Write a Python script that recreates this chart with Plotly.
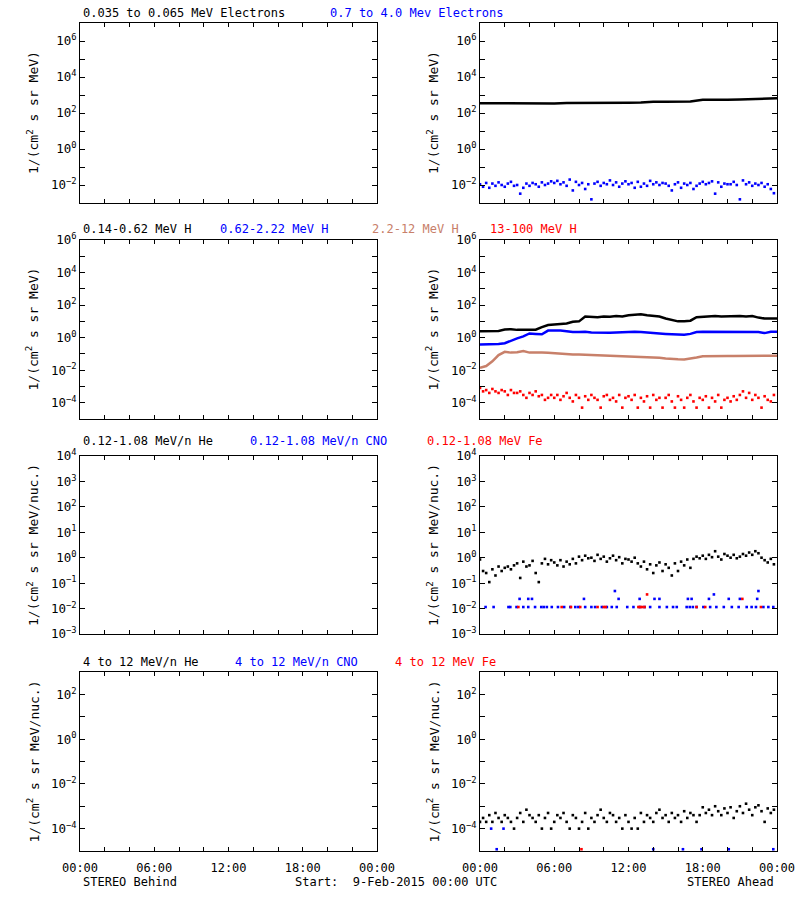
import pandas as pd
import plotly.graph_objects as go

FONT = "DejaVu Sans Mono"
START = pd.Timestamp("2015-02-09 00:00")

# ---------------- time grids (hours after start) ----------------
HOURS_15MIN = [i / 4 for i in range(96)]
HOURS_30MIN = [i / 2 for i in range(49)]
HOURS_1H = list(range(25))

# ---------------- Row 1: electrons, STEREO Ahead ----------------
elec_low = [350, 345, 340, 335, 320, 330, 340, 365, 360, 355, 350, 365, 370,
            380, 420, 420, 440, 430, 550, 520, 540, 560, 580, 610, 650]
elec_high = [0.011, 0.008, 0.013, 0.007, 0.012, 0.009, 0.014, 0.010, 0.008, 0.012, 0.015, 0.009,
             0.010, 0.0033, 0.007, 0.012, 0.009, 0.013, 0.011, 0.008, 0.014, 0.010, 0.012, 0.016,
             0.013, 0.017, 0.011, 0.014, 0.009, 0.020, 0.005, 0.015, 0.010, 0.013, 0.006, 0.011,
             0.0016, 0.012, 0.015, 0.009, 0.013, 0.011, 0.018, 0.010, 0.014, 0.008, 0.012, 0.016,
             0.011, 0.013, 0.007, 0.015, 0.008, 0.012, 0.009, 0.017, 0.011, 0.014, 0.010, 0.013,
             0.012, 0.009, 0.005, 0.011, 0.014, 0.007, 0.012, 0.010, 0.013, 0.006, 0.009, 0.012,
             0.015, 0.011, 0.013, 0.016, 0.0033, 0.014, 0.008, 0.012, 0.011, 0.011, 0.015, 0.010,
             0.0016, 0.018, 0.011, 0.014, 0.009, 0.012, 0.010, 0.013, 0.008, 0.011, 0.006, 0.0035]

# ---------------- Row 2: protons, STEREO Ahead ----------------
h_014_062 = [2.5, 2.5, 2.5, 2.6, 3.2, 3.3, 3.0, 3.0, 2.9, 3.1, 4.4, 6.0, 6.4, 6.6, 7.5, 9.4,
             10, 20, 19, 18, 20, 19, 21, 20, 24, 26, 27, 24, 21, 20, 15, 12, 10, 10, 11, 18,
             19, 20, 21, 20, 21, 20, 21, 20, 21, 17, 15, 15, 15]
h_062_222 = [0.38, 0.38, 0.38, 0.40, 0.45, 0.67, 0.9, 1.2, 1.8, 1.7, 1.6, 2.7, 2.8, 2.7, 2.5, 2.2,
             2.2, 2.3, 2.1, 2.0, 1.9, 2.0, 2.1, 2.2, 2.2, 2.3, 2.2, 2.0, 1.9, 1.8, 1.7, 1.6,
             1.6, 1.5, 1.7, 2.2, 2.3, 2.3, 2.3, 2.3, 2.3, 2.3, 2.3, 2.4, 2.3, 2.2, 1.9, 2.3, 2.3]
h_22_12 = [0.014, 0.018, 0.035, 0.085, 0.135, 0.12, 0.125, 0.15, 0.12, 0.115, 0.12, 0.118,
           0.11, 0.10, 0.095, 0.093, 0.093, 0.09, 0.087, 0.083, 0.082, 0.08, 0.08, 0.078,
           0.072, 0.068, 0.065, 0.063, 0.06, 0.058, 0.052, 0.048, 0.047, 0.046, 0.05, 0.06,
           0.072, 0.074, 0.074, 0.073, 0.075, 0.074, 0.076, 0.075, 0.077, 0.076, 0.078, 0.077, 0.078]
h_13_100 = [8e-4, 5e-4, 6e-4, 4e-4, 7e-4, 5e-4, 4e-4, 6e-4, 5e-4, 3e-4, 6e-4, 4e-4,
            4e-4, 5e-4, 3e-4, 2e-4, 4e-4, 3e-4, 5e-4, 2.5e-4, 3e-4, 1.5e-4, 2e-4, 3e-4,
            2e-4, 3e-4, 1.5e-4, 2.5e-4, 4e-4, 2e-4, 1.2e-4, 3e-4, 2e-4, 5e-5, 2.5e-4, 1.5e-4,
            3e-4, 2e-4, 1.5e-4, 5e-5, 2.5e-4, 3e-4, 1.5e-4, 2e-4, 1.2e-4, 3e-4, 5e-5, 2e-4,
            2.5e-4, 1.5e-4, 3e-4, 5e-5, 2e-4, 1.2e-4, 2.5e-4, 5e-5, 3e-4, 1.5e-4, 2e-4, 5e-5,
            2e-4, 3e-4, 1.2e-4, 5e-5, 2.5e-4, 1.5e-4, 5e-5, 2e-4, 3e-4, 1.2e-4, 5e-5, 2e-4,
            1.5e-4, 2.5e-4, 5e-5, 2e-4, 1.2e-4, 3e-4, 5e-5, 1.5e-4, 2e-4, 1.2e-4, 2.5e-4, 1.5e-4,
            3e-4, 5e-4, 2e-4, 4e-4, 1.5e-4, 3e-4, 2e-4, 5e-5, 2.5e-4, 1.5e-4, 1.2e-4, 3e-4]

# ---------------- Row 3: 0.12-1.08 MeV/n ions, STEREO Ahead ----------------
he_low = [0.85, 0.3, 0.25, 0.11, 0.35, 0.2, 0.45, 0.3, 0.4, 0.45, 0.35, 0.5,
          0.6, 0.16, 0.7, 0.45, 0.5, 0.75, 0.25, 0.11, 0.6, 0.9, 0.55, 0.8,
          0.65, 0.5, 0.8, 0.45, 0.7, 0.55, 0.9, 0.6, 1.1, 0.8, 1.2, 0.95,
          1.0, 0.75, 1.3, 0.9, 1.1, 0.7, 0.95, 1.2, 0.8, 1.05, 0.6, 0.9,
          0.85, 0.7, 1.0, 0.6, 0.45, 0.7, 0.35, 0.55, 0.25, 0.5, 0.65, 0.3,
          0.55, 0.4, 0.2, 0.6, 0.3, 0.7, 0.5, 0.85, 0.4, 0.9, 1.1, 0.95,
          1.2, 0.9, 1.3, 1.05, 1.8, 1.1, 0.85, 1.4, 1.2, 1.0, 1.3, 0.95,
          1.1, 1.4, 1.2, 1.6, 1.3, 1.8, 1.5, 1.0, 0.8, 0.65, 0.9, 0.55]
cno_low_hours = [0.45, 1.1, 2.3, 2.45, 2.95, 3.5, 3.9, 4.45, 4.95, 5.15, 5.4, 5.8, 6.3, 6.8,
                 7.3, 7.7, 7.95, 8.5, 9.0, 9.3, 9.85, 10.25, 10.65, 11.05, 11.9, 12.4, 12.9,
                 13.3, 13.75, 14.5, 15.1, 15.6, 15.9, 16.7, 16.95, 17.2, 17.5, 18.05, 18.6,
                 19.1, 19.7, 20.35, 20.9, 21.55, 21.95, 22.3, 22.9, 23.3, 23.7,
                 3.2, 3.9, 4.2, 8.4, 10.9, 11.2, 12.9, 14.1, 14.5, 16.8, 17.1, 18.5, 18.9,
                 20.1, 21.0, 22.4, 22.5]
cno_low = [0.0115] * 49 + [0.024, 0.024, 0.024, 0.024, 0.049, 0.024, 0.024, 0.024, 0.024,
                           0.024, 0.024, 0.024, 0.036, 0.024, 0.024, 0.024, 0.049]
fe_low_hours = [3.1, 6.6, 7.35, 8.1, 9.5, 10.0, 10.15, 12.8, 12.95, 13.1, 13.3, 17.5, 18.2,
                22.7, 13.5, 21.2]
fe_low = [0.0115] * 14 + [0.036, 0.024]

# ---------------- Row 4: 4-12 MeV/n ions, STEREO Ahead ----------------
he_high = [2e-4, 3e-4, 2e-4, 4e-4, 2e-4, 5e-4, 3e-4, 2e-4, 4e-4, 3e-4, 2e-4, 1e-4,
           3e-4, 5e-4, 2e-4, 7e-4, 4e-4, 3e-4, 2e-4, 4e-4, 1e-4, 3e-4, 5e-4, 1e-4,
           2e-4, 4e-4, 3e-4, 5e-4, 2e-4, 1e-4, 4e-4, 3e-4, 1e-4, 2e-4, 5e-4, 1e-4,
           3e-4, 2e-4, 4e-4, 7e-4, 3e-4, 2e-4, 5e-4, 4e-4, 2e-4, 3e-4, 1e-4, 4e-4,
           2e-4, 1e-4, 3e-4, 1e-4, 5e-4, 2e-4, 4e-4, 3e-4, 2e-4, 5e-4, 7e-4, 3e-4,
           4e-4, 2e-4, 5e-4, 3e-4, 4e-4, 2e-4, 6e-4, 3e-4, 5e-4, 4e-4, 2e-4, 4e-4,
           9e-4, 5e-4, 7e-4, 4e-4, 1.0e-3, 6e-4, 4e-4, 8e-4, 5e-4, 9e-4, 3e-4, 6e-4,
           1.0e-3, 5e-4, 1.3e-3, 7e-4, 4e-4, 9e-4, 1.1e-3, 6e-4, 2e-4, 8e-4, 5e-4, 7e-4]
cno_high_hours = [0.9, 1.9, 1.35, 14.0, 16.4, 17.9, 20.1, 23.7]
cno_high = [1e-4, 1e-4, 1.2e-5, 1.2e-5, 1.2e-5, 1.2e-5, 1.2e-5, 1.2e-5]
fe_high_hours = [8.2]
fe_high = [1.2e-5]

# ---------------- labels ----------------
TIME_TICK_LABELS = ["00:00", "06:00", "12:00", "18:00", "00:00"]
ROW_TITLES = [
    [("0.035 to 0.065 MeV Electrons", "black", 81), ("0.7 to 4.0 Mev Electrons", "blue", 328)],
    [("0.14-0.62 MeV H", "black", 81), ("0.62-2.22 MeV H", "blue", 218),
     ("2.2-12 MeV H", "#c8806a", 370), ("13-100 MeV H", "red", 488)],
    [("0.12-1.08 MeV/n He", "black", 81), ("0.12-1.08 MeV/n CNO", "blue", 248),
     ("0.12-1.08 MeV Fe", "red", 425)],
    [("4 to 12 MeV/n He", "black", 81), ("4 to 12 MeV/n CNO", "blue", 233),
     ("4 to 12 MeV Fe", "red", 393)],
]
Y_TITLES = ["1/(cm<sup>2</sup> s sr MeV)", "1/(cm<sup>2</sup> s sr MeV)",
            "1/(cm<sup>2</sup> s sr MeV/nuc.)", "1/(cm<sup>2</sup> s sr MeV/nuc.)"]

# ---------------- layout geometry (pixels in an 800x900 page) ----------------
W, H = 800, 900
COL_PX = {1: (80, 377), 2: (480, 777)}
ROW_PX = {1: (23, 203), 2: (240, 419), 3: (456, 634), 4: (672, 851)}
TITLE_Y = {1: 13, 2: 229, 3: 441, 4: 661.5}
Y_LOG_RANGE = {1: (-3, 7), 2: (-5, 6), 3: (-3, 4), 4: (-5, 3)}
LABEL_EVERY = {1: 2, 2: 2, 3: 1, 4: 2}


def at(hours):
    return [START + pd.Timedelta(hours=h) for h in hours]


def px_x(x):
    return x / W


def px_y(y):
    return 1 - y / H


fig = go.Figure()


def ax_id(r, c):
    return 2 * (r - 1) + c


def add(r, c, hours, vals, color, mode="markers", width=2.5, size=2.6):
    i = ax_id(r, c)
    kw = dict(x=at(hours), y=vals, xaxis=f"x{i}", yaxis=f"y{i}", showlegend=False,
              hoverinfo="skip", cliponaxis=True)
    if mode == "lines":
        fig.add_trace(go.Scatter(mode="lines", line=dict(color=color, width=width), **kw))
    else:
        fig.add_trace(go.Scatter(mode="markers",
                                 marker=dict(color=color, size=size, symbol="square",
                                             line=dict(width=0)), **kw))


# STEREO Ahead data (right column); STEREO Behind panels are empty
add(1, 2, HOURS_1H, elec_low, "black", mode="lines")
add(1, 2, HOURS_15MIN, elec_high, "blue")
add(2, 2, HOURS_30MIN, h_014_062, "black", mode="lines")
add(2, 2, HOURS_30MIN, h_062_222, "blue", mode="lines")
add(2, 2, HOURS_30MIN, h_22_12, "#c8806a", mode="lines")
add(2, 2, HOURS_15MIN, h_13_100, "red")
add(3, 2, HOURS_15MIN, he_low, "black")
add(3, 2, cno_low_hours, cno_low, "blue")
add(3, 2, fe_low_hours, fe_low, "red")
add(4, 2, HOURS_15MIN, he_high, "black")
add(4, 2, cno_high_hours, cno_high, "blue")
add(4, 2, fe_high_hours, fe_high, "red")

# empty traces so every axis pair exists
for r in range(1, 5):
    i = ax_id(r, 1)
    fig.add_trace(go.Scatter(x=[], y=[], xaxis=f"x{i}", yaxis=f"y{i}", showlegend=False))

x_tickvals = at(list(range(0, 25, 2)))
layout = {}
annotations = []
for r in range(1, 5):
    lo, hi = Y_LOG_RANGE[r]
    exps = list(range(lo, hi + 1))
    ytext = [("10<sup>" + str(e).replace("-", "\u2212") + "</sup>")
             if (e % LABEL_EVERY[r] == 0) else "" for e in exps]
    for c in (1, 2):
        i = ax_id(r, c)
        xk = "xaxis" if i == 1 else f"xaxis{i}"
        yk = "yaxis" if i == 1 else f"yaxis{i}"
        x0, x1 = COL_PX[c]
        y0, y1 = ROW_PX[r]
        xtext = [(TIME_TICK_LABELS[k // 3] if k % 3 == 0 else "") for k in range(13)]
        layout[xk] = dict(
            domain=[px_x(x0), px_x(x1)], anchor=f"y{i}", type="date",
            range=[START, START + pd.Timedelta(hours=24)],
            tickmode="array", tickvals=x_tickvals, ticktext=xtext,
            showticklabels=(r == 4), ticks="inside", ticklen=4, tickwidth=1,
            tickcolor="black", showline=True, linecolor="black", linewidth=1,
            mirror="allticks", showgrid=False, zeroline=False, automargin=False,
            tickfont=dict(family=FONT, size=12, color="black"), ticklabelstandoff=6,
        )
        layout[yk] = dict(
            domain=[px_y(y1), px_y(y0)], anchor=f"x{i}", type="log",
            range=[lo, hi], tickmode="array", tickvals=[10.0 ** e for e in exps],
            ticktext=ytext, ticks="inside", ticklen=5, tickwidth=1, tickcolor="black",
            showline=True, linecolor="black", linewidth=1, mirror="allticks",
            showgrid=False, zeroline=False, automargin=False,
            tickfont=dict(family=FONT, size=12.5, color="black"),
        )
        annotations.append(dict(
            text=Y_TITLES[r - 1], textangle=-90, xref="paper", yref="paper",
            x=px_x(33 + (c - 1) * 400), y=px_y((y0 + y1) / 2), xanchor="center",
            yanchor="middle", showarrow=False,
            font=dict(family=FONT, size=13, color="black")))
    for text, color, xpx in ROW_TITLES[r - 1]:
        annotations.append(dict(
            text=text, xref="paper", yref="paper", x=px_x(xpx), y=px_y(TITLE_Y[r]),
            xanchor="left", yanchor="middle", showarrow=False,
            font=dict(family=FONT, size=12, color=color)))

annotations += [
    dict(text="STEREO Behind", x=px_x(81), y=px_y(882), xanchor="left"),
    dict(text="Start:\u00a0 9-Feb-2015 00:00 UTC", x=px_x(293), y=px_y(882), xanchor="left"),
    dict(text="STEREO Ahead", x=px_x(776), y=px_y(882), xanchor="right"),
]
for a in annotations[-3:]:
    a.update(xref="paper", yref="paper", yanchor="middle", showarrow=False,
             font=dict(family=FONT, size=12, color="black"))

fig.update_layout(
    width=W, height=H, margin=dict(l=0, r=0, t=0, b=0, autoexpand=False),
    paper_bgcolor="white", plot_bgcolor="white", showlegend=False,
    annotations=annotations, **layout,
)
fig.write_html("out.html", config={"displayModeBar": False},
               post_script="document.body.style.margin='0px';"
                           "document.body.style.overflow='hidden';")
